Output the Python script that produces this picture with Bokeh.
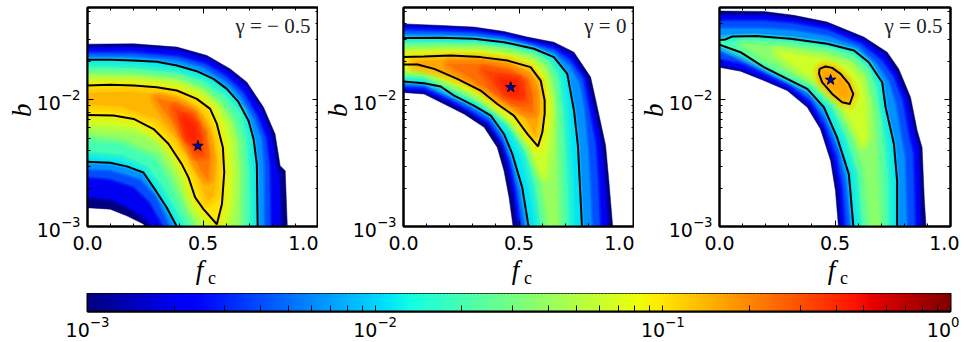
from bokeh.plotting import figure
from bokeh.layouts import column, row
from bokeh.models import Range1d, LinearAxis, LogAxis, FixedTicker, Label, CustomJSTickFormatter
from bokeh.embed import file_html
from bokeh.resources import INLINE

gamma_labels = ["\u03b3 = \u2212 0.5", "\u03b3 = 0", "\u03b3 = 0.5"]
x_ticks = [0.0, 0.5, 1.0]
x_minor = [0.1, 0.2, 0.3, 0.4, 0.6, 0.7, 0.8, 0.9]
x_labels = {0: "0.0", 0.5: "0.5", 1: "1.0"}
y_ticks = [1e-3, 1e-2]
y_minor = [2e-3, 3e-3, 4e-3, 5e-3, 6e-3, 7e-3, 8e-3, 9e-3, 2e-2, 3e-2, 4e-2, 5e-2]
cb_ticks = [1e-3, 1e-2, 1e-1, 1.0]
cb_minor = [2e-3, 3e-3, 4e-3, 5e-3, 6e-3, 7e-3, 8e-3, 9e-3,
            2e-2, 3e-2, 4e-2, 5e-2, 6e-2, 7e-2, 8e-2, 9e-2,
            .2, .3, .4, .5, .6, .7, .8, .9]
star_fc = [0.478, 0.464, 0.481]
star_lb = [-2.364, -1.90, -1.842]

# each region: level (log10 of the colour value), then (fc, log10 b) points
p1_regions = [
 (-3.0, [(-.02,-1.56),(.2,-1.557),(.387,-1.583),(.517,-1.649),(.618,-1.755),(.69,-1.86),(.762,-2.058),(.812,-2.27),(.834,-2.52),(.856,-2.56),(.866,-3.05),(.27,-3.05),(.242,-2.98),(.17,-2.916),(.098,-2.863),(-.02,-2.85)]),
 (-2.7, [(-.02,-1.59),(.2,-1.585),(.39,-1.61),(.52,-1.68),(.62,-1.79),(.69,-1.90),(.75,-2.08),(.795,-2.28),(.815,-2.52),(.83,-2.6),(.835,-3.05),(.31,-3.05),(.24,-2.92),(.17,-2.84),(.098,-2.78),(-.02,-2.76)]),
 (-2.4, [(-.02,-1.63),(.2,-1.63),(.39,-1.66),(.51,-1.72),(.6,-1.82),(.67,-1.94),(.73,-2.12),(.77,-2.3),(.785,-2.52),(.79,-3.05),(.35,-3.05),(.27,-2.8),(.2,-2.68),(.098,-2.62),(-.02,-2.6)]),
 (-2.2, [(-.02,-1.66),(.2,-1.66),(.39,-1.69),(.5,-1.75),(.6,-1.86),(.66,-1.97),(.715,-2.14),(.75,-2.3),(.76,-2.52),(.763,-3.05),(.375,-3.05),(.3,-2.76),(.23,-2.62),(.098,-2.55),(-.02,-2.54)]),
 (-1.95,[(-.02,-1.683),(.098,-1.683),(.2,-1.689),(.3,-1.699),(.387,-1.728),(.473,-1.773),(.545,-1.834),(.603,-1.913),(.654,-2.018),(.697,-2.164),(.719,-2.309),(.733,-2.507),(.737,-3.05),(.401,-3.05),(.343,-2.85),(.286,-2.691),(.242,-2.573),(.17,-2.525),(.098,-2.496),(-.02,-2.488)]),
 (-1.7, [(-.02,-1.74),(.2,-1.75),(.39,-1.79),(.5,-1.85),(.6,-1.97),(.66,-2.1),(.69,-2.3),(.7,-2.6),(.705,-3.05),(.44,-3.05),(.38,-2.85),(.32,-2.66),(.26,-2.52),(.15,-2.43),(-.02,-2.4)]),
 (-1.4, [(-.02,-1.8),(.2,-1.81),(.39,-1.84),(.49,-1.92),(.57,-2.03),(.62,-2.16),(.65,-2.33),(.66,-2.6),(.655,-3.05),(.49,-3.05),(.42,-2.8),(.37,-2.6),(.31,-2.42),(.15,-2.3),(-.02,-2.27)]),
 (-1.2, [(-.02,-1.85),(.2,-1.85),(.39,-1.885),(.49,-1.955),(.555,-2.06),(.6,-2.2),(.62,-2.36),(.627,-2.6),(.62,-2.85),(.59,-3.05),(.54,-3.05),(.46,-2.85),(.42,-2.62),(.38,-2.47),(.31,-2.3),(.2,-2.22),(-.02,-2.19)]),
 (-1.0, [(-.02,-1.887),(.098,-1.881),(.2,-1.887),(.3,-1.9),(.387,-1.926),(.473,-1.992),(.531,-2.071),(.56,-2.19),(.586,-2.375),(.592,-2.573),(.582,-2.823),(.56,-2.982),(.502,-2.863),(.466,-2.77),(.437,-2.612),(.408,-2.507),(.351,-2.348),(.286,-2.23),(.2,-2.15),(.113,-2.124),(-.02,-2.119)]),
 (-0.85,[(-.02,-1.95),(.2,-1.94),(.33,-1.96),(.43,-2.02),(.5,-2.12),(.54,-2.3),(.56,-2.5),(.55,-2.75),(.52,-2.8),(.48,-2.6),(.44,-2.47),(.38,-2.3),(.3,-2.15),(.15,-2.05),(-.02,-2.03)]),
 (-0.65,[(.3,-1.99),(.38,-2.02),(.46,-2.1),(.51,-2.25),(.53,-2.45),(.52,-2.62),(.49,-2.55),(.45,-2.4),(.39,-2.22),(.33,-2.08)]),
 (-0.48,[(.38,-2.07),(.45,-2.13),(.49,-2.27),(.5,-2.43),(.47,-2.43),(.42,-2.27)]),
 (-0.38,[(.42,-2.15),(.46,-2.2),(.47,-2.33),(.44,-2.3)]),
]
p1_lines = [
 [(-.02,-1.683),(.098,-1.683),(.2,-1.689),(.3,-1.699),(.387,-1.728),(.473,-1.773),(.545,-1.834),(.603,-1.913),(.654,-2.018),(.697,-2.164),(.719,-2.309),(.733,-2.507),(.737,-3.05)],
 [(.401,-3.05),(.343,-2.85),(.286,-2.691),(.242,-2.573),(.17,-2.525),(.098,-2.496),(-.02,-2.488)],
 [(-.02,-1.887),(.098,-1.881),(.2,-1.887),(.3,-1.9),(.387,-1.926),(.473,-1.992),(.531,-2.071),(.56,-2.19),(.586,-2.375),(.592,-2.573),(.582,-2.823),(.56,-2.982),(.502,-2.863),(.466,-2.77),(.437,-2.612),(.408,-2.507),(.351,-2.348),(.286,-2.23),(.2,-2.15),(.113,-2.124),(-.02,-2.119)],
]

p2_regions = [
 (-3.0, [(-.02,-1.398),(.161,-1.412),(.305,-1.425),(.435,-1.459),(.536,-1.504),(.651,-1.544),(.738,-1.623),(.81,-1.82),(.839,-2.058),(.875,-2.361),(.889,-2.639),(.908,-3.05),(.478,-3.05),(.457,-2.77),(.435,-2.559),(.406,-2.375),(.349,-2.216),(.262,-2.111),(.176,-2.032),(.089,-1.953),(-.02,-1.939)]),
 (-2.7, [(-.02,-1.42),(.161,-1.43),(.305,-1.445),(.435,-1.48),(.536,-1.525),(.651,-1.57),(.73,-1.65),(.79,-1.83),(.82,-2.06),(.855,-2.36),(.87,-2.64),(.885,-3.05),(.5,-3.05),(.48,-2.77),(.455,-2.55),(.43,-2.37),(.37,-2.2),(.28,-2.09),(.19,-2.01),(.09,-1.93),(-.02,-1.92)]),
 (-2.4, [(-.02,-1.45),(.161,-1.46),(.305,-1.47),(.435,-1.5),(.54,-1.55),(.65,-1.6),(.72,-1.69),(.775,-1.83),(.80,-2.07),(.83,-2.36),(.84,-2.65),(.85,-3.05),(.515,-3.05),(.49,-2.72),(.465,-2.5),(.43,-2.33),(.37,-2.17),(.28,-2.07),(.2,-1.99),(.09,-1.9),(-.02,-1.89)]),
 (-2.2, [(-.02,-1.48),(.161,-1.485),(.305,-1.495),(.435,-1.52),(.55,-1.57),(.65,-1.63),(.72,-1.74),(.76,-1.87),(.78,-2.07),(.795,-2.36),(.805,-2.65),(.815,-3.05),(.53,-3.05),(.50,-2.71),(.47,-2.48),(.435,-2.3),(.38,-2.15),(.29,-2.05),(.21,-1.98),(.09,-1.88),(-.02,-1.87)]),
 (-1.95,[(-.02,-1.512),(.161,-1.509),(.305,-1.517),(.435,-1.544),(.565,-1.596),(.651,-1.662),(.709,-1.794),(.738,-2.084),(.755,-2.361),(.764,-2.691),(.774,-3.05),(.546,-3.05),(.514,-2.691),(.471,-2.427),(.435,-2.269),(.378,-2.124),(.305,-2.045),(.219,-1.966),(.161,-1.894),(.089,-1.868),(-.02,-1.852)]),
 (-1.7, [(-.02,-1.55),(.161,-1.55),(.305,-1.555),(.45,-1.585),(.56,-1.63),(.63,-1.69),(.67,-1.8),(.69,-2.08),(.70,-2.36),(.71,-2.7),(.715,-3.05),(.60,-3.05),(.57,-2.7),(.53,-2.43),(.48,-2.25),(.41,-2.1),(.31,-2.0),(.22,-1.93),(.09,-1.82),(-.02,-1.81)]),
 (-1.4, [(-.02,-1.6),(.161,-1.595),(.305,-1.595),(.45,-1.625),(.56,-1.67),(.61,-1.73),(.64,-1.85),(.655,-2.1),(.66,-2.3),(.665,-2.7),(.67,-3.05),(.63,-3.05),(.60,-2.65),(.56,-2.37),(.5,-2.2),(.42,-2.07),(.32,-1.97),(.22,-1.88),(.09,-1.78),(-.02,-1.77)]),
 (-1.2, [(-.02,-1.63),(.2,-1.62),(.33,-1.62),(.45,-1.65),(.55,-1.7),(.6,-1.78),(.63,-1.98),(.635,-2.15),(.625,-2.35),(.61,-2.6),(.59,-2.55),(.55,-2.37),(.47,-2.17),(.33,-1.96),(.22,-1.86),(.09,-1.76),(-.02,-1.75)]),
 (-1.0, [(-.02,-1.662),(.089,-1.657),(.205,-1.649),(.334,-1.662),(.45,-1.689),(.55,-1.741),(.594,-1.847),(.611,-2.005),(.611,-2.111),(.601,-2.256),(.582,-2.367),(.536,-2.269),(.478,-2.124),(.406,-2.032),(.334,-1.926),(.233,-1.834),(.133,-1.755),(.061,-1.72),(-.02,-1.72)]),
 (-0.8, [(.05,-1.7),(.2,-1.68),(.34,-1.68),(.45,-1.71),(.54,-1.77),(.58,-1.86),(.59,-2.0),(.585,-2.12),(.57,-2.27),(.53,-2.15),(.47,-2.06),(.4,-1.98),(.3,-1.86),(.18,-1.78),(.05,-1.73)]),
 (-0.62,[(.2,-1.72),(.34,-1.72),(.45,-1.76),(.53,-1.83),(.56,-1.95),(.56,-2.1),(.52,-2.08),(.44,-2.0),(.33,-1.87)]),
 (-0.48,[(.35,-1.77),(.45,-1.8),(.52,-1.87),(.53,-2.0),(.48,-2.0),(.4,-1.9)]),
 (-0.38,[(.42,-1.84),(.49,-1.85),(.5,-1.95),(.45,-1.94)]),
]
p2_lines = [
 [(-.02,-1.512),(.161,-1.509),(.305,-1.517),(.435,-1.544),(.565,-1.596),(.651,-1.662),(.709,-1.794),(.738,-2.084),(.755,-2.361),(.764,-2.691),(.774,-3.05)],
 [(.546,-3.05),(.514,-2.691),(.471,-2.427),(.435,-2.269),(.378,-2.124),(.305,-2.045),(.219,-1.966),(.161,-1.894),(.089,-1.868),(-.02,-1.852)],
 [(-.02,-1.662),(.089,-1.657),(.205,-1.649),(.334,-1.662),(.45,-1.689),(.55,-1.741),(.594,-1.847),(.611,-2.005),(.611,-2.111),(.601,-2.256),(.582,-2.367),(.536,-2.269),(.478,-2.124),(.406,-2.032),(.334,-1.926),(.233,-1.834),(.133,-1.755),(.061,-1.72),(-.02,-1.72)],
]

p3_regions = [
 (-3.0, [(-.02,-1.298),(.192,-1.301),(.322,-1.332),(.466,-1.385),(.625,-1.504),(.726,-1.623),(.776,-1.755),(.827,-1.979),(.856,-2.243),(.877,-2.375),(.887,-2.797),(.896,-3.05),(.517,-3.05),(.502,-2.718),(.481,-2.48),(.437,-2.23),(.38,-2.058),(.293,-1.926),(.192,-1.847),(.091,-1.773),(-.02,-1.736)]),
 (-2.7, [(-.02,-1.335),(.19,-1.335),(.32,-1.36),(.466,-1.41),(.62,-1.53),(.715,-1.65),(.76,-1.78),(.81,-1.99),(.84,-2.25),(.86,-2.4),(.87,-3.05),(.53,-3.05),(.52,-2.72),(.495,-2.48),(.45,-2.22),(.39,-2.04),(.3,-1.91),(.2,-1.83),(.09,-1.75),(-.02,-1.71)]),
 (-2.4, [(-.02,-1.38),(.19,-1.38),(.32,-1.4),(.466,-1.45),(.61,-1.56),(.7,-1.69),(.75,-1.82),(.79,-2.01),(.815,-2.27),(.835,-2.42),(.845,-3.05),(.55,-3.05),(.535,-2.68),(.51,-2.45),(.46,-2.2),(.4,-2.01),(.31,-1.89),(.21,-1.8),(.09,-1.7),(-.02,-1.66)]),
 (-2.2, [(-.02,-1.44),(.19,-1.44),(.32,-1.455),(.466,-1.5),(.6,-1.585),(.68,-1.72),(.73,-1.86),(.76,-2.03),(.785,-2.3),(.80,-2.45),(.81,-3.05),(.57,-3.05),(.55,-2.65),(.52,-2.4),(.46,-2.14),(.39,-1.96),(.3,-1.86),(.2,-1.77),(.09,-1.66),(-.02,-1.6)]),
 (-1.95,[(-.02,-1.53),(.026,-1.522),(.055,-1.499),(.163,-1.496),(.307,-1.517),(.466,-1.557),(.582,-1.61),(.646,-1.702),(.704,-1.86),(.719,-2.058),(.755,-2.348),(.769,-2.639),(.769,-3.05),(.582,-3.05),(.56,-2.586),(.509,-2.296),(.452,-2.058),(.38,-1.913),(.293,-1.834),(.192,-1.741),(.091,-1.623),(-.02,-1.551)]),
 (-1.7, [(.0,-1.54),(.16,-1.53),(.31,-1.55),(.466,-1.59),(.58,-1.645),(.64,-1.74),(.68,-1.9),(.69,-2.07),(.715,-2.35),(.73,-2.65),(.73,-3.05),(.62,-3.05),(.6,-2.58),(.55,-2.3),(.49,-2.06),(.4,-1.9),(.31,-1.82),(.2,-1.72),(.09,-1.63)]),
 (-1.45,[(.1,-1.56),(.3,-1.585),(.466,-1.63),(.57,-1.69),(.63,-1.8),(.65,-1.95),(.67,-2.1),(.68,-2.4),(.695,-3.05),(.655,-3.05),(.63,-2.58),(.58,-2.28),(.51,-2.03),(.41,-1.86),(.3,-1.77),(.18,-1.66)]),
 (-1.2, [(.25,-1.62),(.46,-1.68),(.56,-1.74),(.61,-1.85),(.63,-2.02),(.635,-2.3),(.62,-2.35),(.58,-2.2),(.52,-2.0),(.42,-1.84),(.33,-1.74)]),
 (-0.9, [(.433,-1.755),(.459,-1.736),(.488,-1.747),(.524,-1.794),(.56,-1.873),(.579,-1.953),(.564,-2.032),(.531,-2.018),(.488,-1.953),(.444,-1.86),(.431,-1.794)]),
 (-0.8, [(.45,-1.77),(.49,-1.78),(.54,-1.86),(.56,-1.95),(.54,-1.98),(.5,-1.92),(.45,-1.84)]),
]
p3_lines = [
 [(-.02,-1.53),(.026,-1.522),(.055,-1.499),(.163,-1.496),(.307,-1.517),(.466,-1.557),(.582,-1.61),(.646,-1.702),(.704,-1.86),(.719,-2.058),(.755,-2.348),(.769,-2.639),(.769,-3.05)],
 [(.582,-3.05),(.56,-2.586),(.509,-2.296),(.452,-2.058),(.38,-1.913),(.293,-1.834),(.192,-1.741),(.091,-1.623),(-.02,-1.551)],
 [(.433,-1.755),(.459,-1.736),(.488,-1.747),(.524,-1.794),(.56,-1.873),(.579,-1.953),(.564,-2.032),(.531,-2.018),(.488,-1.953),(.444,-1.86),(.431,-1.794),(.433,-1.755)],
]

FONT = "DejaVu Sans"
TSIZE = "19px"
SERIF = "Liberation Serif"

def jet(t):
    t = max(0.0, min(1.0, t))
    def seg(pts):
        for (a, va), (b, vb) in zip(pts, pts[1:]):
            if t <= b:
                return va + (vb - va) * (t - a) / (b - a)
        return pts[-1][1]
    r = seg([(0, 0), (.35, 0), (.66, 1), (.89, 1), (1, .5)])
    g = seg([(0, 0), (.125, 0), (.375, 1), (.64, 1), (.91, 0), (1, 0)])
    b = seg([(0, .5), (.11, 1), (.34, 1), (.65, 0), (1, 0)])
    return "#%02x%02x%02x" % (int(r * 255), int(g * 255), int(b * 255))

blank = CustomJSTickFormatter(code="return ''")

def panel(i, regions, lines, left, right):
    p = figure(frame_width=231, frame_height=219, y_axis_type="log",
               x_range=Range1d(0, 1), y_range=Range1d(1e-3, 10 ** -1.27),
               output_backend="svg", toolbar_location=None,
               min_border_left=left, min_border_right=right, min_border_top=7, min_border_bottom=67)
    p.grid.visible = False
    p.outline_line_color = "black"
    p.outline_line_width = 2
    for k, (lev, pts) in enumerate(regions):
        xs = [a for a, _ in pts]
        ys = [10 ** c for _, c in pts]
        col = jet((lev + 3) / 3)
        widths = () if k == 0 else ((5, 3) if k <= 4 else (14, 9, 5))
        for w in widths:
            p.patch(xs, ys, fill_color=None, line_color=col, line_alpha=0.28, line_width=w, line_join="round")
        p.patch(xs, ys, fill_color=col, line_color=col, line_width=0.5)
    for pts in lines:
        p.line([a for a, _ in pts], [10 ** c for _, c in pts], line_color="black", line_width=2)
    p.scatter([star_fc[i]], [10 ** star_lb[i]], marker="star", size=11,
              fill_color="#0000cc", line_color="black", line_width=1)

    ax = p.xaxis[0]
    ax.ticker = FixedTicker(ticks=x_ticks, minor_ticks=x_minor)
    ax.major_label_overrides = x_labels
    ay = p.yaxis[0]
    ay.ticker = FixedTicker(ticks=y_ticks, minor_ticks=y_minor)
    top = LinearAxis(ticker=FixedTicker(ticks=x_ticks, minor_ticks=x_minor), formatter=blank)
    right_ax = LogAxis(ticker=FixedTicker(ticks=y_ticks, minor_ticks=y_minor), formatter=blank)
    p.add_layout(top, "above")
    p.add_layout(right_ax, "right")
    for a in (ax, ay, top, right_ax):
        a.axis_line_color = "black"
        a.axis_line_width = 2
        a.major_tick_in = 6
        a.major_tick_out = 0
        a.minor_tick_in = 3
        a.minor_tick_out = 0
        a.major_tick_line_color = "black"
        a.minor_tick_line_color = "black"
    top.major_label_standoff = 0
    right_ax.major_label_standoff = 0
    for a in (ax, ay):
        a.major_label_text_font = FONT
        a.major_label_text_font_size = TSIZE
        a.major_label_text_color = "black"
    ax.major_label_standoff = 9
    ay.major_label_standoff = 7

    ax.axis_label = "f\u00a0"
    ax.axis_label_text_font = SERIF
    ax.axis_label_text_font_style = "italic"
    ax.axis_label_text_font_size = "27px"
    ax.axis_label_text_color = "black"
    ax.axis_label_standoff = 2

    ay.axis_label = "\u00a0\u00a0b"
    ay.axis_label_text_font = SERIF
    ay.axis_label_text_font_style = "italic"
    ay.axis_label_text_font_size = "27px"
    ay.axis_label_text_color = "black"
    ay.axis_label_standoff = -3

    sub = LinearAxis(ticker=FixedTicker(ticks=[], minor_ticks=[]), formatter=blank)
    sub.axis_line_color = None
    sub.major_tick_line_color = None
    sub.minor_tick_line_color = None
    sub.major_label_standoff = 0
    sub.axis_label = "\u00a0\u00a0\u00a0\u00a0c"
    sub.axis_label_text_font = SERIF
    sub.axis_label_text_font_style = "normal"
    sub.axis_label_text_font_size = "18px"
    sub.axis_label_text_color = "black"
    sub.axis_label_standoff = -20
    p.add_layout(sub, "below")

    p.add_layout(Label(x=0.965, y=10 ** -1.42, text=gamma_labels[i], text_align="right", text_baseline="middle",
                       text_font=SERIF, text_font_size="21px", text_color="#222222"))
    return p

p1 = panel(0, p1_regions, p1_lines, 87, 0)
p2 = panel(1, p2_regions, p2_lines, 85, 0)
p3 = panel(2, p3_regions, p3_lines, 85, 9)

# colour bar
cb_steps = 256
cb = figure(frame_width=863, frame_height=18, x_axis_type="log",
            x_range=Range1d(1e-3, 1), y_range=Range1d(0, 1),
            output_backend="svg", toolbar_location=None,
            min_border_left=87, min_border_right=9, min_border_top=0, min_border_bottom=30)
cb.grid.visible = False
cb.yaxis.visible = False
cb.outline_line_color = "black"
cb.outline_line_width = 2
lefts = [10 ** (-3 + 3 * k / cb_steps) for k in range(cb_steps)]
rights = [10 ** (-3 + 3 * (k + 1.5) / cb_steps) for k in range(cb_steps)]
cb.quad(left=lefts, right=rights, bottom=0, top=1,
        fill_color=[jet((k + .5) / cb_steps) for k in range(cb_steps)], line_color=None)
cx = cb.xaxis[0]
cx.ticker = FixedTicker(ticks=cb_ticks, minor_ticks=cb_minor)
cx.axis_line_color = "black"
cx.axis_line_width = 2
cx.major_tick_in = 6
cx.major_tick_out = 0
cx.minor_tick_in = 6
cx.minor_tick_out = 0
cx.major_tick_line_color = "black"
cx.minor_tick_line_color = "black"
cx.major_label_text_font = FONT
cx.major_label_text_font_size = TSIZE
cx.major_label_text_color = "black"
cx.major_label_standoff = 4

top_row = row(p1, p2, p3, spacing=0)
page = column(top_row, cb, spacing=0)
open("out.html", "w").write(file_html(page, INLINE))
